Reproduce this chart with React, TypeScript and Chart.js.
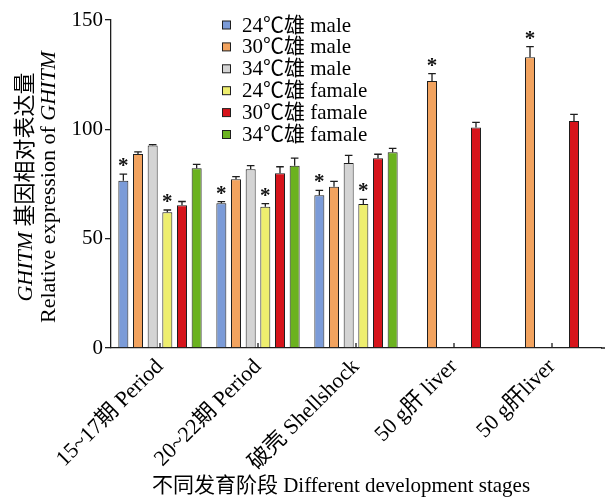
import React, { useEffect, useRef } from 'react';
import { Chart, registerables } from 'chart.js';

Chart.register(...registerables);

// ---- data ----
const categories = ['15~17期 Period', '20~22期 Period', '破壳 Shellshock', '50 g肝 liver', '50 g肝liver'];
const seriesLabels = ['24℃雄 male', '30℃雄 male', '34℃雄 male', '24℃雄 famale', '30℃雄 famale', '34℃雄 famale'];
const seriesColors = ['#7b9bd8', '#f2a35f', '#d4d4d4', '#eeee6e', '#d6141b', '#6bb21f'];

const male24 = [76.5, 66.2, 69.8, null, null];
const male30 = [88.7, 77.2, 73.7, 122.1, 133.0];
const male34 = [92.6, 81.7, 84.6, null, null];
const female24 = [62.1, 64.6, 65.9, null, null];
const female30 = [65.3, 79.9, 86.8, 100.8, 103.8];
const female34 = [82.2, 83.3, 89.5, null, null];

const male24Err = [3.0, 0.7, 2.3, 0, 0];
const male30Err = [1.0, 1.2, 2.5, 3.4, 4.8];
const male34Err = [0.4, 1.7, 3.5, 0, 0];
const female24Err = [1.0, 1.4, 2.1, 0, 0];
const female30Err = [1.7, 3.0, 1.8, 2.4, 3.0];
const female34Err = [1.8, 3.5, 1.8, 0, 0];

const male24Star = ['*', '*', '*', '', ''];
const male30Star = ['', '', '', '*', '*'];
const male34Star = ['', '', '', '', ''];
const female24Star = ['*', '*', '*', '', ''];
const female30Star = ['', '', '', '', ''];
const female34Star = ['', '', '', '', ''];

const yTicks = [0, 50, 100, 150];

const yTitleLine1 = [
  { text: 'GHITM', italic: true },
  { text: ' 基因相对表达量', italic: false },
];
const yTitleLine2 = [
  { text: 'Relative expression of ', italic: false },
  { text: 'GHITM', italic: true },
];
const xTitle = '不同发育阶段 Different development stages';

const seriesValues = [male24, male30, male34, female24, female30, female34];
const seriesErrors = [male24Err, male30Err, male34Err, female24Err, female30Err, female34Err];
const seriesStars = [male24Star, male30Star, male34Star, female24Star, female30Star, female34Star];

const FAMILY = '"Liberation Serif", "Noto Sans CJK SC", serif';
const INK = '#1e1e1e';

function fontStr(size: number, italic = false, bold = false) {
  return `${italic ? 'italic ' : ''}${bold ? 'bold ' : ''}${size}px ${FAMILY}`;
}

function drawRotatedParts(ctx: CanvasRenderingContext2D, cx: number, cy: number, parts: { text: string; italic: boolean }[], size: number) {
  ctx.save();
  ctx.translate(cx, cy);
  ctx.rotate(-Math.PI / 2);
  let total = 0;
  const widths = parts.map((p) => {
    ctx.font = fontStr(size, p.italic);
    const w = ctx.measureText(p.text).width;
    total += w;
    return w;
  });
  let x = -total / 2;
  ctx.textBaseline = 'middle';
  ctx.textAlign = 'left';
  ctx.fillStyle = '#000';
  parts.forEach((p, k) => {
    ctx.font = fontStr(size, p.italic);
    ctx.fillText(p.text, x, 0);
    x += widths[k];
  });
  ctx.restore();
}

const overlayPlugin = {
  id: 'overlay',
  afterDatasetsDraw(chart: any) {
    const ctx: CanvasRenderingContext2D = chart.ctx;
    const ys = chart.scales.y;
    const xs = chart.scales.x;
    const area = chart.chartArea;
    ctx.save();
    ctx.strokeStyle = INK;
    ctx.lineWidth = 1.3;

    // error bars + significance marks
    seriesValues.forEach((vals, i) => {
      const meta = chart.getDatasetMeta(i);
      vals.forEach((v, j) => {
        if (v == null) return;
        const el = meta.data[j];
        const bx = el.x;
        const top = ys.getPixelForValue(v);
        const et = ys.getPixelForValue(v + seriesErrors[i][j]);
        ctx.strokeStyle = INK;
        ctx.lineWidth = 1.3;
        ctx.beginPath();
        ctx.moveTo(bx, top);
        ctx.lineTo(bx, et);
        ctx.moveTo(bx - 3.8, et);
        ctx.lineTo(bx + 3.8, et);
        ctx.stroke();
        const star = seriesStars[i][j];
        if (star) {
          ctx.font = fontStr(21, false, true);
          ctx.fillStyle = '#111';
          ctx.textAlign = 'center';
          ctx.textBaseline = 'alphabetic';
          const m = ctx.measureText(star);
          const asc = m.actualBoundingBoxAscent;
          const desc = m.actualBoundingBoxDescent;
          const centerY = et - 12;
          const base = centerY - (desc - asc) / 2;
          ctx.fillText(star, bx, base);
        }
      });
    });

    // inward tick marks on the x axis at category centres
    ctx.strokeStyle = INK;
    ctx.lineWidth = 1.3;
    ctx.beginPath();
    categories.forEach((_, i) => {
      const px = xs.getPixelForValue(i);
      ctx.moveTo(px, area.bottom);
      ctx.lineTo(px, area.bottom - 5);
    });
    // extend x axis line to the right edge
    ctx.moveTo(area.right, area.bottom);
    ctx.lineTo(chart.width, area.bottom);
    ctx.stroke();

    // legend
    seriesLabels.forEach((lab, i) => {
      const cy = 25 + 21.9 * i;
      ctx.fillStyle = seriesColors[i];
      ctx.fillRect(222.5, cy - 4, 8, 8);
      ctx.lineWidth = 1;
      ctx.strokeStyle = INK;
      ctx.strokeRect(222.5, cy - 4, 8, 8);
      ctx.fillStyle = '#000';
      ctx.font = fontStr(21);
      ctx.textAlign = 'left';
      ctx.textBaseline = 'middle';
      ctx.fillText(lab, 242, cy + 1);
    });

    // axis titles
    drawRotatedParts(ctx, 26, 187, yTitleLine1, 22);
    drawRotatedParts(ctx, 49, 187, yTitleLine2, 22);
    ctx.font = fontStr(21);
    ctx.fillStyle = '#000';
    ctx.textAlign = 'center';
    ctx.textBaseline = 'middle';
    ctx.fillText(xTitle, 341, 486);
    ctx.restore();
  },
};

export default function App() {
  const canvasRef = useRef<HTMLCanvasElement | null>(null);

  useEffect(() => {
    if (!canvasRef.current) return;
    const chart = new Chart(canvasRef.current, {
      type: 'bar',
      data: {
        labels: categories,
        datasets: seriesValues.map((vals, i) => ({
          label: seriesLabels[i],
          data: vals,
          backgroundColor: seriesColors[i],
          borderColor: INK,
          borderWidth: 1,
          barPercentage: 0.682,
          categoryPercentage: 0.8976,
        })),
      },
      options: {
        animation: false,
        responsive: true,
        maintainAspectRatio: false,
        layout: { padding: { top: 20, right: 4, bottom: 0, left: 0 } },
        plugins: {
          legend: { display: false },
          tooltip: { enabled: false },
          title: { display: false },
        },
        scales: {
          x: {
            type: 'category',
            offset: true,
            grid: { display: false, drawTicks: false },
            border: { display: true, color: INK, width: 1.3 },
            ticks: {
              color: '#000',
              font: { family: FAMILY, size: 22 },
              minRotation: 45,
              maxRotation: 45,
              padding: 6,
              autoSkip: false,
            },
            afterFit: (s: any) => {
              s.height = 151;
            },
          },
          y: {
            min: 0,
            max: 150,
            grid: { drawOnChartArea: false, drawTicks: true, tickLength: 6, color: INK, lineWidth: 1.3 },
            border: { display: true, color: INK, width: 1.3 },
            ticks: { color: '#000', font: { family: FAMILY, size: 21 }, padding: 2, stepSize: 50 },
            afterBuildTicks: (s: any) => {
              s.ticks = yTicks.map((v) => ({ value: v }));
            },
            afterFit: (s: any) => {
              s.width = 111;
            },
          },
        },
      } as any,
      plugins: [overlayPlugin],
    });
    return () => chart.destroy();
  }, []);

  return (
    <div style={{ position: 'fixed', left: 0, top: 0, width: 605, height: 499, background: '#fff' }}>
      <canvas ref={canvasRef} />
    </div>
  );
}
